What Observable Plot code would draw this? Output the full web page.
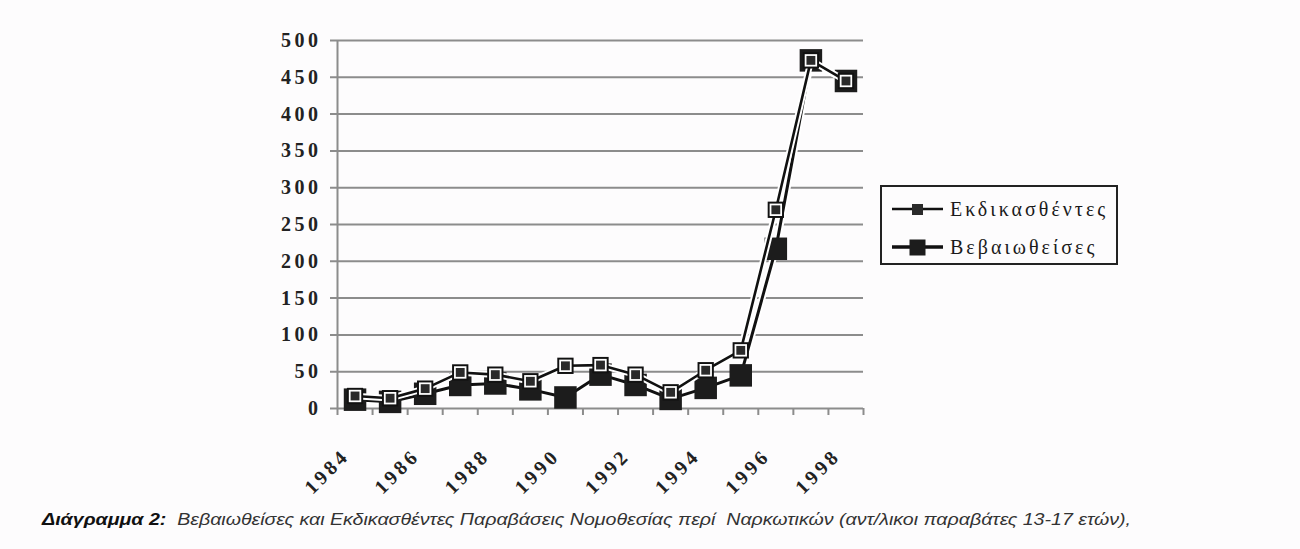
<!DOCTYPE html>
<html><head><meta charset="utf-8">
<script src="https://cdn.jsdelivr.net/npm/d3@7"></script>
<script src="https://cdn.jsdelivr.net/npm/@observablehq/plot@0.6"></script>
<style>
body{margin:0;background:#fdfcfd;}
#wrap{position:relative;width:1300px;height:549px;overflow:hidden;background:#fdfcfd;}
#legend{position:absolute;left:880px;top:185px;width:234px;height:76px;border:2px solid #222;background:#fdfcfd;font-family:"Liberation Serif",serif;font-size:20px;letter-spacing:3px;color:#1a1a1a;}
.row{position:absolute;left:8px;display:flex;align-items:center;height:30px;}
.row svg{margin-right:5px;}
#caption{position:absolute;left:42px;top:511px;font-family:"Liberation Sans",Arial,sans-serif;font-size:16px;font-style:italic;color:#333;white-space:pre;transform:scaleX(1.225);transform-origin:0 0;}
#caption b{color:#111;}
</style></head><body>
<div id="wrap"><div id="chart"></div><div id="legend"></div><div id="caption"></div></div>
<script>
const years = [1984,1985,1986,1987,1988,1989,1990,1991,1992,1993,1994,1995,1996,1997,1998];
const ekdikasthentes = [17,14,27,49,46,37,58,59,46,22,52,79,270,473,445];
const vevaiotheises = [12,9,20,32,34,26,15,46,32,13,28,45,217,473,445];
const yTicks = [0,50,100,150,200,250,300,350,400,450,500];
const xLabelYears = [1984,1986,1988,1990,1992,1994,1996,1998];
const seriesNames = ["Εκδικασθέντες","Βεβαιωθείσες"];
const captionLead = "Διάγραμμα 2:";
const captionText = "  Βεβαιωθείσες και Εκδικασθέντες Παραβάσεις Νομοθεσίας περί  Ναρκωτικών (αντ/λικοι παραβάτες 13-17 ετών),";

const dataA = years.map((y,i)=>({year:y, value:ekdikasthentes[i]}));
const dataB = years.map((y,i)=>({year:y, value:vevaiotheises[i]}));
const boundaries = years.map(y=>y-0.5).concat([years[years.length-1]+0.5]);

const gridColor = "#8c8c8c";
const chart = Plot.plot({
  width: 1300, height: 505,
  marginLeft: 337, marginRight: 437, marginTop: 40, marginBottom: 97,
  style: {fontFamily: "Liberation Serif, serif", fontSize: "20px", fontWeight: "bold", letterSpacing: "3.5px", color: "#222", background: "transparent"},
  x: {domain: [boundaries[0], boundaries[boundaries.length-1]]},
  y: {domain: [0, 500]},
  marks: [
    Plot.ruleY(yTicks, {stroke: gridColor, strokeWidth: 2, insetLeft: -7}),
    Plot.ruleX([boundaries[0]], {stroke: gridColor, strokeWidth: 2}),
    Plot.axisY({ticks: yTicks, tickSize: 0, tickPadding: 16, label: null}),
    Plot.axisX({ticks: boundaries, tickSize: 7, tickFormat: () => "", stroke: gridColor, strokeWidth: 2, label: null}),
    Plot.axisX({ticks: xLabelYears, tickSize: 0, tickRotate: -45, tickPadding: 44, dx: -9, tickFormat: d => String(d), label: null}),
    // Βεβαιωθείσες
    Plot.line(dataB, {x: "year", y: "value", stroke: "white", strokeWidth: 7}),
    Plot.line(dataB, {x: "year", y: "value", stroke: "#111", strokeWidth: 3}),
    Plot.dot(dataB, {x: "year", y: "value", symbol: "square", r: 12.7, fill: "#1c1c1c"}),
    // Εκδικασθέντες
    Plot.line(dataA, {x: "year", y: "value", stroke: "white", strokeWidth: 6.5}),
    Plot.line(dataA, {x: "year", y: "value", stroke: "#111", strokeWidth: 2.6}),
    Plot.dot(dataA, {x: "year", y: "value", symbol: "square", r: 9.2, fill: "#111"}),
    Plot.dot(dataA, {x: "year", y: "value", symbol: "square", r: 7.0, fill: "white"}),
    Plot.dot(dataA, {x: "year", y: "value", symbol: "square", r: 5.0, fill: "#2a2a2a"})
  ]
});
document.getElementById("chart").appendChild(chart);

// legend
const legend = document.getElementById("legend");
const swatches = [
  `<svg width="55" height="20"><line x1="2" x2="53" y1="10" y2="10" stroke="#111" stroke-width="2.5"/><rect x="22" y="5" width="11" height="11" fill="#2a2a2a"/></svg>`,
  `<svg width="55" height="24"><line x1="2" x2="53" y1="12" y2="12" stroke="#111" stroke-width="3.5"/><rect x="19.5" y="4.5" width="16" height="16" fill="#1c1c1c"/></svg>`
];
const tops = [9, 47];
seriesNames.forEach((name,i)=>{
  const row = document.createElement("div");
  row.className = "row";
  row.style.top = (tops[i]-2) + "px";
  row.innerHTML = swatches[i] + `<span>${name}</span>`;
  legend.appendChild(row);
});
document.getElementById("caption").innerHTML = `<b>${captionLead}</b>${captionText}`;
</script>
</body></html>
